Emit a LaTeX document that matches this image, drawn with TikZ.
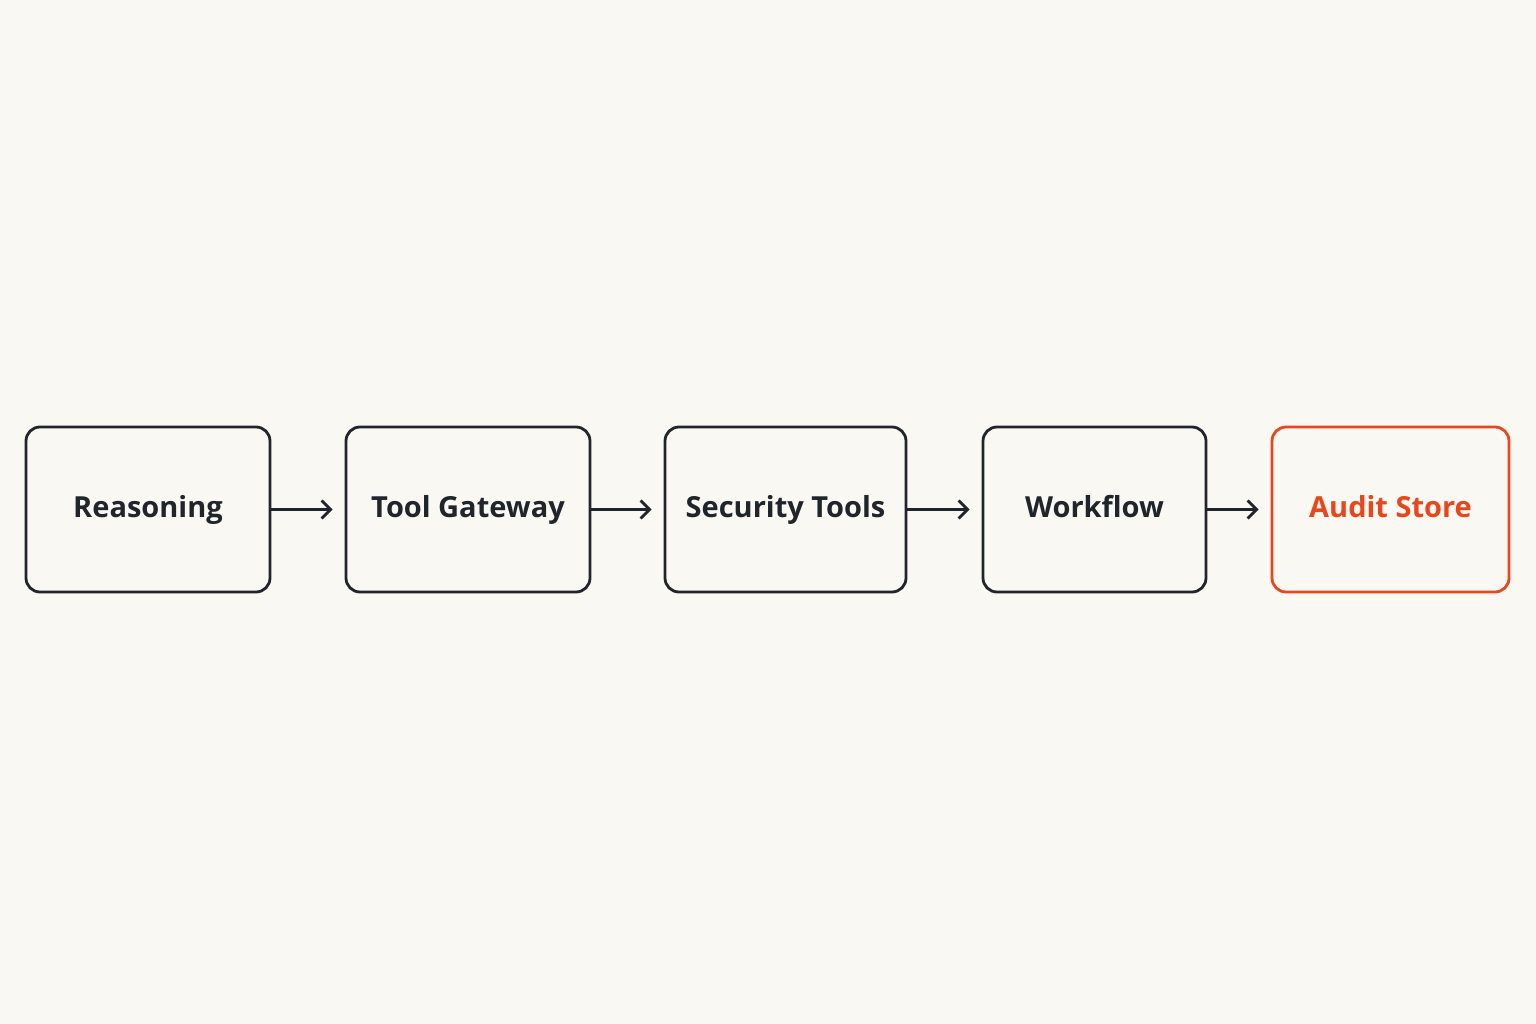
\documentclass[tikz,border=0pt]{standalone}
\usepackage{fontspec}
\setmainfont{Open Sans}
\usetikzlibrary{arrows.meta}
\definecolor{bg}{HTML}{FAF8F3}
\definecolor{ink}{HTML}{1F252B}
\definecolor{accent}{HTML}{E8461C}
\begin{document}
\begin{tikzpicture}[x=1pt,y=-1pt,
  box/.style={draw=ink,line width=2.8pt,rounded corners=14pt,text=ink,font=\fontsize{29}{34}\selectfont\bfseries,text height=22pt,text depth=6pt},
  conn/.style={draw=ink,line width=2.8pt,-{Straight Barb[length=9pt,width=18pt,line width=2.8pt]},shorten >=12pt}]
\fill[bg] (0,0) rectangle (1536,1024);
\useasboundingbox (0,0) rectangle (1536,1024);
\node[box,minimum width=244pt,minimum height=165pt] (a) at (148,509.5) {Reasoning};
\node[box,minimum width=244pt,minimum height=165pt] (b) at (468,509.5) {Tool Gateway};
\node[box,minimum width=241pt,minimum height=165pt] (c) at (785.5,509.5) {Security Tools};
\node[box,minimum width=223pt,minimum height=165pt] (d) at (1094.5,509.5) {Workflow};
\node[box,draw=accent,text=accent,minimum width=237pt,minimum height=165pt] (e) at (1390.5,509.5) {Audit Store};
\draw[conn] (a) -- (b);
\draw[conn] (b) -- (c);
\draw[conn] (c) -- (d);
\draw[conn] (d) -- (e);
\end{tikzpicture}
\end{document}
